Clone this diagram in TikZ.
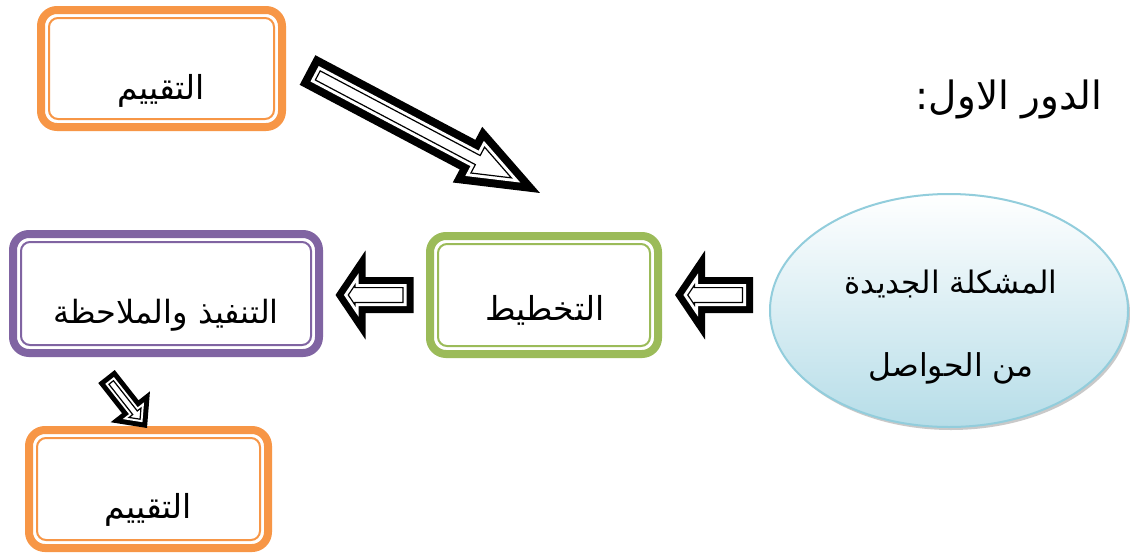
\documentclass[tikz,border=0pt]{standalone}
\usepackage{fontspec}
\usetikzlibrary{shapes.geometric,shadows,calc}
\TeXXeTstate=1
\newfontfamily\arabicfont[Script=Arabic]{DejaVu Sans}
\definecolor{orng}{HTML}{F79646}
\definecolor{grn}{HTML}{9BBB59}
\definecolor{purp}{HTML}{8064A2}
\definecolor{eborder}{HTML}{92CDDC}
\definecolor{efill}{HTML}{B6DDE8}
% block arrow polygon: #1 path options, #2 inset distance
\newcommand\bapoly[2]{%
  \pgfmathsetmacro\bzd{#2}%
  \pgfmathsetmacro\bzB{\baL-\baLh}%
  \pgfmathsetmacro\bzl{sqrt(\baLh*\baLh+\bah*\bah)}%
  \pgfmathsetmacro\bzx{\bzd-\baL/2}%
  \pgfmathsetmacro\bzxb{\bzB+\bzd-\baL/2}%
  \pgfmathsetmacro\bzys{\bas-\bzd}%
  \pgfmathsetmacro\bzyh{(\bah*(\baLh-\bzd)-\bzd*\bzl)/\baLh}%
  \pgfmathsetmacro\bzxt{\baL/2-\bzd*\bzl/\bah}%
  \path[#1] (\bzx,-\bzys) -- (\bzxb,-\bzys) -- (\bzxb,-\bzyh) -- (\bzxt,0)
    -- (\bzxb,\bzyh) -- (\bzxb,\bzys) -- (\bzx,\bzys) -- cycle;%
}
\newcommand\dframe[2]{%
  \draw[#2, line width=2, rounded corners=9]
    ([shift={(8,8)}]#1.north west) rectangle ([shift={(-8,-8)}]#1.south east);%
}
\tikzset{
  pics/barrow/.style n args={6}{code={%
    \def\baL{#1}\def\baLh{#2}\def\bah{#3}\def\bas{#4}%
    \bapoly{fill=black}{0}%
    \bapoly{fill=white}{#5}%
    \bapoly{draw=black,line width=1.2}{#5+#6+0.6}%
  }},
  boxstyle/.style={draw=#1, rectangle, rounded corners=16, line width=8,
    outer sep=0, inner sep=0, fill=white},
  lbl/.style={font=\arabicfont\fontsize{#1}{#1}\selectfont, inner sep=0, text=black},
}
\begin{document}
\begin{tikzpicture}[x=1pt,y=-1pt]
\useasboundingbox[fill=white] (0,0) rectangle (1130,552);
% boxes
\node[boxstyle=orng, minimum width=241, minimum height=117] (eval1) at (161.5,68.5) {};
\node[boxstyle=purp, minimum width=306, minimum height=119] (act) at (166,293.5) {};
\node[boxstyle=grn, minimum width=228, minimum height=118] (plan) at (544,295) {};
\node[boxstyle=orng, minimum width=239, minimum height=118] (eval2) at (148.5,489) {};
\dframe{eval1}{orng}
\dframe{act}{purp}
\dframe{plan}{grn}
\dframe{eval2}{orng}
% ellipse
\node[ellipse, draw=eborder, line width=2, minimum width=358, minimum height=233,
  inner sep=0, outer sep=0, top color=white, bottom color=efill,
  drop shadow={shadow xshift=2pt, shadow yshift=-3pt, opacity=0.35, fill=black!60}]
  (prob) at (949,310.5) {};
% texts
\node[lbl=33] (t1) at (161,91) {\beginR التقييم\endR};
\node[lbl=33] (t2) at (545,310) {\beginR التخطيط\endR};
\node[lbl=32] (t3) at (166,315) {\beginR التنفيذ والملاحظة\endR};
\node[lbl=33] (t4) at (148,510) {\beginR التقييم\endR};
\node[lbl=31] (t5) at (951,284) {\beginR المشكلة الجديدة\endR};
\node[lbl=31.5] (t6) at (951,368) {\beginR من الحواصل\endR};
\node[lbl=39] (t7) at (1009,99) {\beginR الدور الاول:\endR};
% block arrows
\path (plan.west) -- (act.east |- plan.west) pic[midway, sloped, allow upside down] {barrow={78}{30}{44.5}{18}{7}{3}};
\path (prob.west |- plan.east) -- (plan.east) pic[midway, sloped, allow upside down] {barrow={78}{30}{44.5}{18}{7}{3}};
\coordinate (d1a) at (307.5,70);
\coordinate (d1b) at (540,193);
\path (d1a) -- (d1b) pic[midway, sloped, allow upside down] {barrow={263}{82}{31.5}{16.75}{8}{3}};
\coordinate (d2a) at (106.5,376.5);
\coordinate (d2b) at (147,428);
\path (d2a) -- (d2b) pic[midway, sloped, allow upside down] {barrow={65.5}{27}{25}{10.5}{5}{2}};
\end{tikzpicture}
\end{document}
